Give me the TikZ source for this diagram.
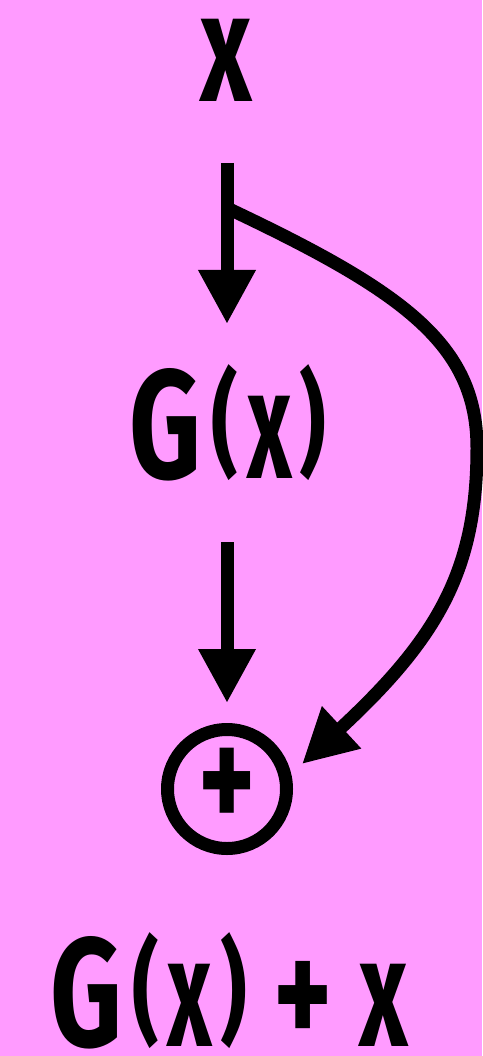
\documentclass[tikz,border=0pt]{standalone}
\usepackage{fontspec}
\newfontfamily\hand{Fira Sans}[FakeStretch=0.72]
\usetikzlibrary{arrows.meta}
\definecolor{bgpink}{HTML}{FF9BFF}
\newcommand\smallparen[1]{\raisebox{16pt}{\fontsize{114}{114}\selectfont #1}}
\newcommand\gofx{G\kern10pt\smallparen{(}\kern9pt\scalebox{0.78}[1]{x}\kern8pt\smallparen{)}}
\tikzset{
  lbl/.style={anchor=base, inner sep=0pt, font=\hand\bfseries\fontsize{155}{155}\selectfont},
  flow/.style={line width=13pt, -{Triangle[length=54pt,width=54pt]}},
  sumnode/.style={circle, draw, line width=13pt, minimum size=119pt, inner sep=0pt,
    font=\hand\bfseries\fontsize{150}{150}\selectfont}
}
\begin{document}
\begin{tikzpicture}[x=1pt,y=-1pt]
\fill[bgpink] (0,0) rectangle (482,1056);
\useasboundingbox (0,0) rectangle (482,1056);
\node[lbl] (x) at (226,102) {\scalebox{0.9}[1]{x}};
\node[lbl] (gx) at (228,478) {\gofx};
\node[sumnode] (plus) at (227,789) {\raisebox{-0.09em}{+}};
\node[lbl] (out) at (229,1046) {\gofx{} + \scalebox{0.85}[1]{x}};
\coordinate (a1s) at (227,163);
\coordinate (a1e) at (227,324);
\coordinate (a2s) at (227,542);
\coordinate (a2e) at (227,703);
\coordinate (br) at (227,208);
\coordinate (mid) at (477,448);
\coordinate (ce) at (302,764);
\draw[flow] (a1s) -- (a1e);
\draw[flow] (a2s) -- (a2e);
\draw[flow] (br) .. controls (405,292) and (477,345) .. (mid)
  .. controls (477,570) and (438,638) .. (ce);
\end{tikzpicture}
\end{document}
